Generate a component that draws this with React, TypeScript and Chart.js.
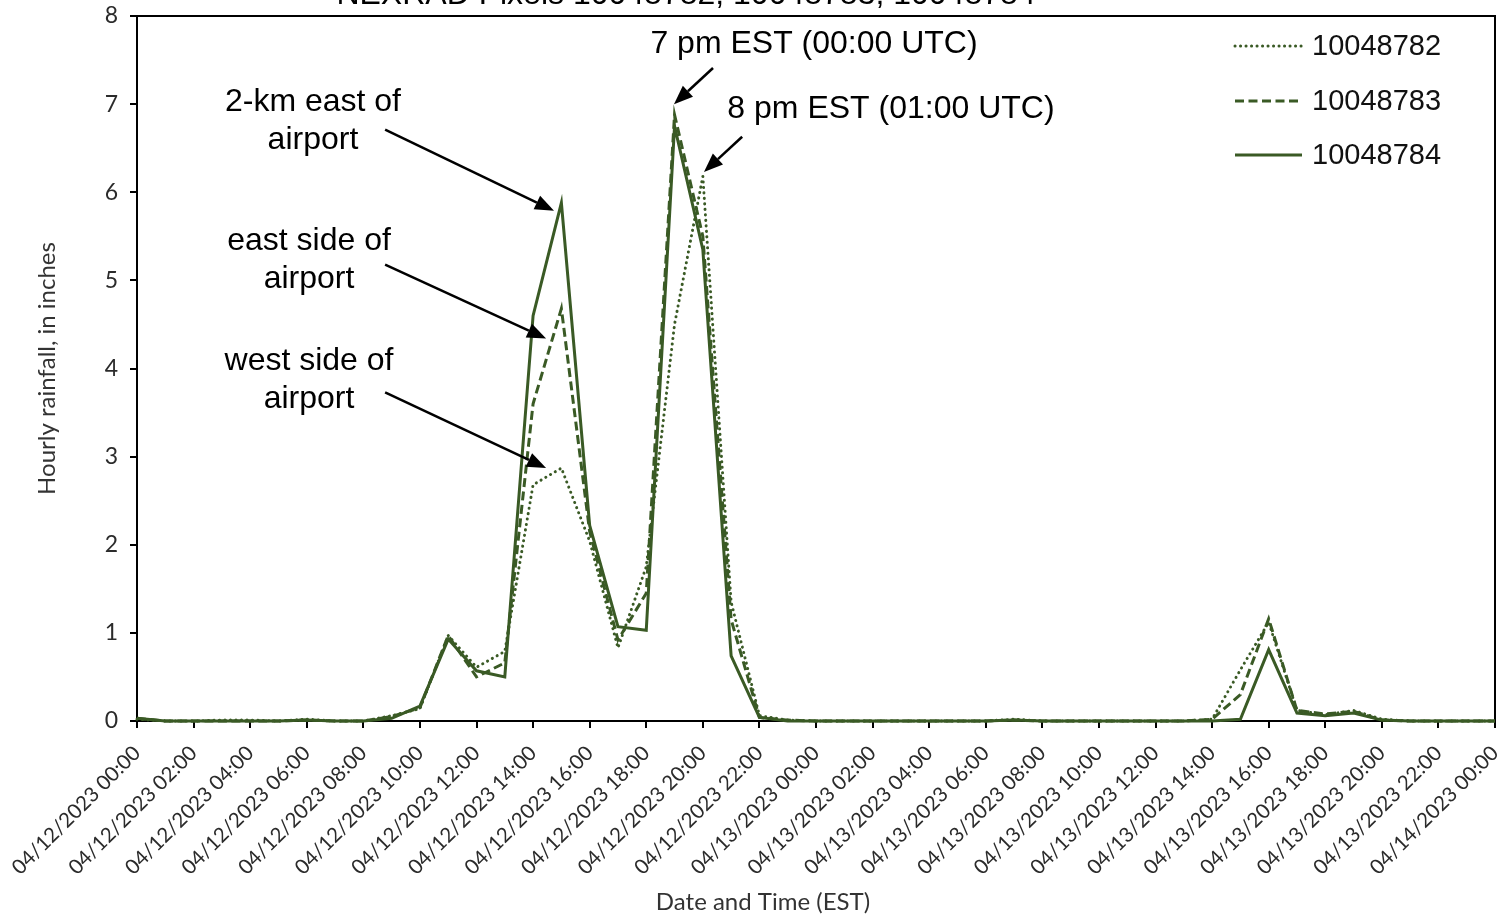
import React, { useEffect, useRef } from 'react';
import { Chart, registerables } from 'chart.js';

Chart.register(...registerables);

// ---------- data ----------
const tickLabels = [
  '04/12/2023 00:00', '04/12/2023 02:00', '04/12/2023 04:00', '04/12/2023 06:00',
  '04/12/2023 08:00', '04/12/2023 10:00', '04/12/2023 12:00', '04/12/2023 14:00',
  '04/12/2023 16:00', '04/12/2023 18:00', '04/12/2023 20:00', '04/12/2023 22:00',
  '04/13/2023 00:00', '04/13/2023 02:00', '04/13/2023 04:00', '04/13/2023 06:00',
  '04/13/2023 08:00', '04/13/2023 10:00', '04/13/2023 12:00', '04/13/2023 14:00',
  '04/13/2023 16:00', '04/13/2023 18:00', '04/13/2023 20:00', '04/13/2023 22:00',
  '04/14/2023 00:00',
];

const seriesNames = ['10048782', '10048783', '10048784'];

// hourly values, 04/12 00:00 .. 04/14 00:00 (49 hours)
const pixel10048782 = [
  0.02, 0, 0, 0.01, 0.01, 0, 0.02, 0, 0, 0.06,
  0.14, 0.97, 0.61, 0.79, 2.68, 2.87, 2.04, 0.83, 1.75, 4.5,
  6.18, 1.35, 0.06, 0.01, 0, 0, 0, 0, 0, 0,
  0, 0.02, 0, 0, 0, 0, 0, 0, 0.02, 0.58,
  1.12, 0.12, 0.07, 0.12, 0.02, 0, 0, 0, 0,
];
const pixel10048783 = [
  0.03, 0, 0, 0, 0, 0, 0.01, 0, 0, 0.05,
  0.15, 0.97, 0.5, 0.66, 3.6, 4.68, 2.15, 0.92, 1.45, 6.88,
  5.5, 1.15, 0.04, 0.01, 0, 0, 0, 0, 0, 0,
  0, 0.01, 0, 0, 0, 0, 0, 0, 0.02, 0.3,
  1.16, 0.12, 0.08, 0.11, 0.01, 0, 0, 0, 0,
];
const pixel10048784 = [
  0.03, 0, 0, 0, 0, 0, 0.01, 0, 0, 0.03,
  0.17, 0.93, 0.57, 0.5, 4.6, 5.88, 2.22, 1.07, 1.03, 6.75,
  5.35, 0.74, 0.04, 0, 0, 0, 0, 0, 0, 0,
  0, 0.01, 0, 0, 0, 0, 0, 0, 0, 0.02,
  0.81, 0.09, 0.06, 0.09, 0.01, 0, 0, 0, 0,
];

const titleText = 'NEXRAD Pixels 10048782, 10048783, 10048784';
const yTitle = 'Hourly rainfall, in inches';
const xTitle = 'Date and Time (EST)';

// annotation labels (data units: hour index, inches)
const noteTexts = [
  { lines: ['2-km east of', 'airport'], x: 6.22, y: 7.02 },
  { lines: ['east side of', 'airport'], x: 6.08, y: 5.45 },
  { lines: ['west side of', 'airport'], x: 6.08, y: 4.08 },
  { lines: ['7 pm EST (00:00 UTC)'], x: 23.93, y: 7.68 },
  { lines: ['8 pm EST (01:00 UTC)'], x: 26.65, y: 6.94 },
];
const noteArrows = [
  { x1: 8.77, y1: 6.71, x2: 14.74, y2: 5.79 },
  { x1: 8.77, y1: 5.18, x2: 14.46, y2: 4.34 },
  { x1: 8.77, y1: 3.73, x2: 14.46, y2: 2.87 },
  { x1: 20.36, y1: 7.41, x2: 18.98, y2: 7.0 },
  { x1: 21.39, y1: 6.63, x2: 20.04, y2: 6.23 },
];

const GREEN = '#3a5a25';
const styles = [
  { dash: [0.1, 5.4], width: 3, cap: 'round' },
  { dash: [9, 4.5], width: 3, cap: 'butt' },
  { dash: [], width: 3, cap: 'butt' },
];

const SANS = '"Liberation Sans", Arial, sans-serif';
const TICKFONT = 'Lato, "Open Sans", sans-serif';

const extrasPlugin = {
  id: 'extras',
  beforeDatasetsDraw(chart: any) {
    const { ctx, chartArea: a } = chart;
    ctx.save();
    ctx.strokeStyle = '#000';
    ctx.lineWidth = 2;
    ctx.beginPath();
    ctx.moveTo(a.left, a.top);
    ctx.lineTo(a.right, a.top);
    ctx.lineTo(a.right, a.bottom);
    ctx.stroke();
    ctx.restore();
  },
  afterDraw(chart: any) {
    const { ctx, chartArea: a } = chart;
    const xs = chart.scales.x;
    const ys = chart.scales.y;
    ctx.save();
    // title (cut off at top)
    ctx.fillStyle = '#000';
    ctx.font = `32px ${SANS}`;
    ctx.textAlign = 'center';
    ctx.textBaseline = 'alphabetic';
    ctx.fillText(titleText, 686, 4);

    // axis titles
    ctx.fillStyle = '#333';
    ctx.font = `24px ${TICKFONT}`;
    ctx.textBaseline = 'middle';
    ctx.fillText(xTitle, 763, 902);
    ctx.save();
    ctx.translate(47, (a.top + a.bottom) / 2);
    ctx.rotate(-Math.PI / 2);
    ctx.fillText(yTitle, 0, 0);
    ctx.restore();

    // annotations
    ctx.fillStyle = '#000';
    ctx.font = `32px ${SANS}`;
    ctx.textAlign = 'center';
    ctx.textBaseline = 'middle';
    noteTexts.forEach((n) => {
      const px = xs.getPixelForValue(n.x);
      const py = ys.getPixelForValue(n.y);
      n.lines.forEach((l, i) => ctx.fillText(l, px, py + i * 38));
    });
    ctx.strokeStyle = '#000';
    ctx.lineWidth = 2.5;
    noteArrows.forEach((r) => {
      const x1 = xs.getPixelForValue(r.x1);
      const y1 = ys.getPixelForValue(r.y1);
      const x2 = xs.getPixelForValue(r.x2);
      const y2 = ys.getPixelForValue(r.y2);
      const ang = Math.atan2(y2 - y1, x2 - x1);
      const L = 19;
      const W = 7.5;
      const bx = x2 - L * Math.cos(ang);
      const by = y2 - L * Math.sin(ang);
      ctx.beginPath();
      ctx.moveTo(x1, y1);
      ctx.lineTo(bx, by);
      ctx.stroke();
      ctx.beginPath();
      ctx.moveTo(x2, y2);
      ctx.lineTo(bx + W * Math.sin(ang), by - W * Math.cos(ang));
      ctx.lineTo(bx - W * Math.sin(ang), by + W * Math.cos(ang));
      ctx.closePath();
      ctx.fill();
    });

    // legend
    const lx0 = a.right - 260;
    const lx1 = a.right - 193;
    const rowsY = [a.top + 30, a.top + 85, a.top + 139];
    ctx.font = `29px ${SANS}`;
    ctx.textAlign = 'left';
    ctx.textBaseline = 'middle';
    seriesNames.forEach((name, i) => {
      const st = styles[i];
      ctx.save();
      ctx.strokeStyle = GREEN;
      ctx.lineWidth = st.width;
      ctx.lineCap = st.cap as CanvasLineCap;
      ctx.setLineDash(st.dash);
      ctx.beginPath();
      ctx.moveTo(lx0, rowsY[i]);
      ctx.lineTo(lx1, rowsY[i]);
      ctx.stroke();
      ctx.restore();
      ctx.fillStyle = '#111';
      ctx.fillText(name, lx1 + 10, rowsY[i] + 1);
    });
    ctx.restore();
  },
};

export default function App() {
  const ref = useRef<HTMLCanvasElement | null>(null);
  useEffect(() => {
    if (!ref.current) return;
    const seriesValues = [pixel10048782, pixel10048783, pixel10048784];
    const chart = new Chart(ref.current, {
      type: 'line',
      data: {
        datasets: seriesValues.map((vals, i) => ({
          label: seriesNames[i],
          data: vals.map((v, h) => ({ x: h, y: v })),
          borderColor: GREEN,
          backgroundColor: GREEN,
          borderWidth: styles[i].width,
          borderDash: styles[i].dash,
          borderCapStyle: styles[i].cap as CanvasLineCap,
          pointRadius: 0,
          tension: 0,
          fill: false,
          clip: false as any,
        })),
      },
      options: {
        animation: false,
        responsive: true,
        maintainAspectRatio: false,
        layout: { padding: { left: 0, right: 16, top: 16, bottom: 0 } },
        plugins: {
          legend: { display: false },
          tooltip: { enabled: false },
          title: { display: false },
        },
        scales: {
          x: {
            type: 'linear',
            min: 0,
            max: 48,
            afterFit: (s: any) => { s.height = 195; s.paddingRight = 0; s.paddingLeft = 0; },
            border: { display: true, color: '#000', width: 2 },
            grid: { drawOnChartArea: false, drawTicks: true, color: '#000', lineWidth: 2, tickLength: 7 },
            ticks: {
              stepSize: 2,
              autoSkip: false,
              maxRotation: 45,
              minRotation: 45,
              padding: 13,
              color: '#2b2b2b',
              font: { family: TICKFONT, size: 20.5 },
              callback: (v: any) => tickLabels[Math.round(Number(v) / 2)] ?? '',
            },
          },
          y: {
            min: 0,
            max: 8,
            afterFit: (s: any) => { s.width = 137; s.paddingTop = 0; s.paddingBottom = 0; },
            border: { display: true, color: '#000', width: 2 },
            grid: { drawOnChartArea: false, drawTicks: true, color: '#000', lineWidth: 2, tickLength: 7 },
            ticks: {
              stepSize: 1,
              padding: 12,
              color: '#2b2b2b',
              font: { family: TICKFONT, size: 23 },
            },
          },
        },
      },
      plugins: [extrasPlugin],
    });
    return () => chart.destroy();
  }, []);
  return (
    <div style={{ position: 'fixed', left: 0, top: 0, width: 1511, height: 916, background: '#fff' }}>
      <canvas ref={ref} />
    </div>
  );
}
